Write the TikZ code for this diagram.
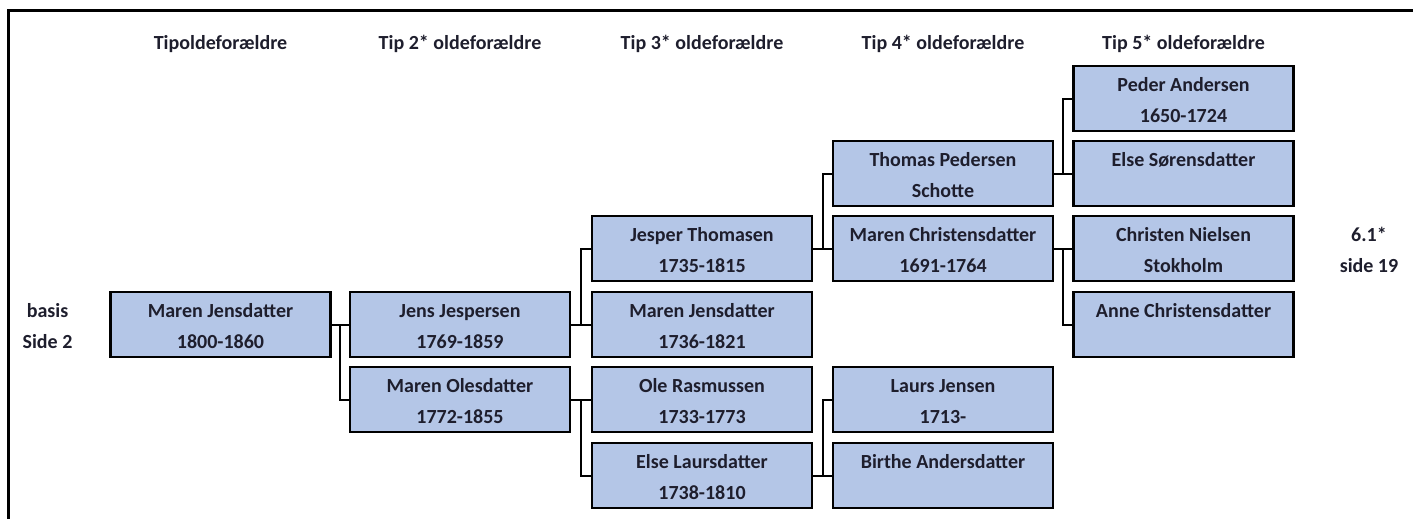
\documentclass[tikz,border=0pt]{standalone}
\usepackage{fontspec}
\setmainfont{Carlito}
\usetikzlibrary{calc}
\definecolor{boxfill}{RGB}{180,198,231}
\definecolor{txt}{RGB}{30,30,45}
\newcommand\bx[2]{\begin{minipage}[c][65pt][t]{220pt}\centering\fontsize{20}{31}\selectfont\rule{0pt}{25pt}#1\par #2\end{minipage}}
\begin{document}
\begin{tikzpicture}[x=1pt,y=-1pt,
  person/.style={draw=black,line width=2.2pt,fill=boxfill,inner sep=0pt,text=txt,font=\bfseries},
  conn/.style={draw=black,line width=2pt},
  frameline/.style={draw=black,line width=2.7pt},
  head/.style={anchor=base,text=txt,font=\bfseries\fontsize{20}{24}\selectfont,inner sep=0pt}]
\useasboundingbox (0,0) rectangle (1413,519);
\draw[frameline] (8.7,519) -- (8.7,10.7) -- (1413,10.7);
% headers
\node[head] (h1) at (220.5,49) {Tipoldeforældre};
\node[head] (h2) at (460,49) {Tip 2* oldeforældre};
\node[head] (h3) at (702,49) {Tip 3* oldeforældre};
\node[head] (h4) at (943,49) {Tip 4* oldeforældre};
\node[head] (h5) at (1183.5,49) {Tip 5* oldeforældre};
% side labels
\node[inner sep=0pt,text=txt,font=\bfseries] (basis) at (47.5,324.5) {\begin{minipage}[c][65pt][t]{80pt}\centering\fontsize{20}{31}\selectfont\rule{0pt}{25pt}basis\par Side 2\end{minipage}};
\node[inner sep=0pt,text=txt,font=\bfseries] (ref) at (1369,248.5) {\begin{minipage}[c][65pt][t]{80pt}\centering\fontsize{20}{31}\selectfont\rule{0pt}{25pt}6.1*\par side 19\end{minipage}};
% column 1
\node[person] (a) at (220.5,324.5) {\bx{Maren Jensdatter}{1800-1860}};
% column 2
\node[person] (b1) at (460,324.5) {\bx{Jens Jespersen}{1769-1859}};
\node[person] (b2) at (460,399.5) {\bx{Maren Olesdatter}{1772-1855}};
% column 3
\node[person] (c1) at (702,248.5) {\bx{Jesper Thomasen}{1735-1815}};
\node[person] (c2) at (702,324.5) {\bx{Maren Jensdatter}{1736-1821}};
\node[person] (c3) at (702,399.5) {\bx{Ole Rasmussen}{1733-1773}};
\node[person] (c4) at (702,475.5) {\bx{Else Laursdatter}{1738-1810}};
% column 4
\node[person] (d1) at (943,173.5) {\bx{Thomas Pedersen}{Schotte}};
\node[person] (d2) at (943,248.5) {\bx{Maren Christensdatter}{1691-1764}};
\node[person] (d3) at (943,399.5) {\bx{Laurs Jensen}{1713-}};
\node[person] (d4) at (943,475.5) {\bx{Birthe Andersdatter}{}};
% column 5
\node[person] (e1) at (1183.5,98.5) {\bx{Peder Andersen}{1650-1724}};
\node[person] (e2) at (1183.5,173.5) {\bx{Else Sørensdatter}{}};
\node[person] (e3) at (1183.5,248.5) {\bx{Christen Nielsen}{Stokholm}};
\node[person] (e4) at (1183.5,324.5) {\bx{Anne Christensdatter}{}};
% connectors
\foreach \c/\s/\o in {a/b1/b2, b1/c2/c1, b2/c3/c4, c1/d2/d1, c4/d4/d3, d1/e2/e1, d2/e3/e4}{
  \draw[conn] (\c.east) -- (\s.west);
  \draw[conn] ($(\c.east)!0.5!(\s.west)$) |- (\o.west);
}
\end{tikzpicture}
\end{document}
